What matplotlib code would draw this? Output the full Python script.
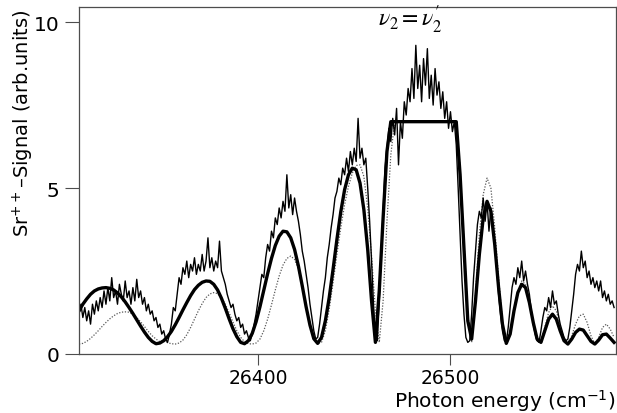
import numpy as np
import matplotlib
matplotlib.use("Agg")
import matplotlib.pyplot as plt

# measured Sr++ signal, one value per cm-1 from 26307 to 26585
energy = np.arange(26307, 26586)
signal = [
    1.2, 1.5, 1.1, 1.4, 1.0, 1.3, 0.9, 1.5, 1.2, 1.6,
    1.3, 1.7, 1.4, 1.9, 1.5, 2.0, 1.6, 2.3, 1.7, 1.9,
    1.5, 2.1, 1.8, 1.6, 2.2, 1.7, 1.9, 1.5, 2.0, 1.6,
    2.25, 1.7, 1.9, 1.5, 1.7, 1.3, 1.5, 1.2, 1.3, 1.0,
    1.1, 0.8, 0.9, 0.6, 0.7, 0.45, 0.35, 0.6, 0.9, 1.4,
    1.3, 1.8, 2.3, 2.1, 2.6, 2.4, 2.8, 2.3, 2.7, 2.5,
    2.9, 2.4, 2.7, 2.5, 3.0, 2.5, 2.8, 3.5, 2.6, 2.9,
    2.5, 2.8, 2.6, 3.4, 2.5, 2.3, 2.1, 1.8, 1.6, 1.4,
    1.5, 1.2, 1.0, 1.1, 0.8, 0.9, 0.6, 0.7, 0.5, 0.4,
    0.6, 0.9, 1.2, 1.6, 2.0, 2.4, 2.3, 2.9, 3.3, 3.1,
    3.7, 3.5, 4.1, 3.9, 4.4, 4.1, 4.6, 4.3, 5.4, 4.4,
    4.8, 4.2, 4.7, 4.3, 4.0, 3.6, 3.1, 2.8, 2.4, 2.0,
    1.5, 1.1, 0.7, 0.45, 0.5, 0.9, 1.4, 1.9, 2.3, 2.9,
    3.3, 3.8, 4.2, 4.7, 4.9, 5.3, 5.1, 5.6, 5.4, 5.9,
    5.5, 6.1, 5.7, 6.2, 5.8, 7.1, 5.9, 6.2, 5.7, 5.9,
    5.0, 4.0, 2.8, 1.5, 0.5, 0.4, 1.6, 3.0, 4.3, 5.6,
    6.2, 6.8, 6.4, 7.1, 6.6, 7.4, 5.7, 7.0, 6.5, 7.6,
    7.2, 8.0, 7.6, 8.6, 7.7, 9.3, 8.0, 8.7, 7.6, 8.9,
    8.1, 9.2, 7.7, 8.4, 7.5, 8.6, 7.8, 8.2, 7.4, 7.9,
    7.1, 7.6, 6.8, 7.3, 6.7, 7.0, 6.3, 5.0, 3.6, 2.2,
    1.2, 0.5, 0.35, 0.4, 1.2, 2.3, 3.1, 3.9, 4.3, 4.1,
    4.7, 4.0, 4.6, 3.7, 4.4, 3.9, 3.3, 2.6, 1.8, 1.2,
    0.7, 0.4, 0.35, 0.8, 1.4, 2.0, 2.3, 2.1, 2.6, 2.3,
    2.8, 2.2, 2.5, 2.1, 1.8, 1.3, 0.9, 0.6, 0.4, 0.35,
    0.7, 1.1, 1.4, 1.3, 1.7, 1.4, 1.9, 1.5, 1.6, 1.2,
    0.9, 0.7, 0.5, 0.4, 0.45, 0.8, 1.3, 1.8, 2.4, 2.7,
    2.5, 3.1, 2.6, 2.8, 2.3, 2.5, 2.1, 2.3, 2.0, 2.2,
    1.9, 2.2, 1.7, 1.9, 1.6, 1.8, 1.5, 1.6, 1.4,
]

# calculations, one value every 2 cm-1
energy_calc = np.arange(26307, 26586, 2)
calc_thick = [
    1.30, 1.50, 1.66, 1.80, 1.90, 1.96, 1.99, 2.00, 1.98, 1.93,
    1.84, 1.72, 1.57, 1.40, 1.22, 1.03, 0.84, 0.66, 0.50, 0.38,
    0.31, 0.33, 0.40, 0.52, 0.68, 0.88, 1.10, 1.33, 1.55, 1.76,
    1.94, 2.07, 2.16, 2.20, 2.19, 2.10, 1.93, 1.68, 1.38, 1.06,
    0.76, 0.52, 0.35, 0.31, 0.40, 0.62, 0.97, 1.42, 1.92, 2.42,
    2.88, 3.27, 3.55, 3.70, 3.68, 3.50, 3.15, 2.65, 2.05, 1.42,
    0.87, 0.46, 0.32, 0.50, 1.00, 1.70, 2.55, 3.45, 4.28, 4.95,
    5.40, 5.60, 5.55, 5.15, 4.35, 3.15, 1.60, 0.35, 1.90, 4.10,
    6.10, 7.0, 7.0, 7.0, 7.0, 7.0, 7.0, 7.0, 7.0, 7.0,
    7.0, 7.0, 7.0, 7.0, 7.0, 7.0, 7.0, 7.0, 7.0, 5.4,
    3.2, 1.0, 0.45, 1.6, 3.0, 4.1, 4.6, 4.3, 3.3, 2.0,
    0.9, 0.32, 0.6, 1.3, 1.85, 2.1, 2.0, 1.55, 0.95, 0.45,
    0.35, 0.7, 1.05, 1.2, 1.05, 0.7, 0.4, 0.3, 0.45, 0.65,
    0.75, 0.72, 0.55, 0.38, 0.3, 0.42, 0.58, 0.6, 0.48, 0.35,
]
calc_dotted = [
    0.30, 0.32, 0.38, 0.47, 0.58, 0.70, 0.83, 0.95, 1.06, 1.15,
    1.22, 1.26, 1.27, 1.26, 1.20, 1.10, 0.97, 0.83, 0.68, 0.55,
    0.45, 0.37, 0.40, 0.34, 0.31, 0.30, 0.33, 0.42, 0.58, 0.80,
    1.05, 1.30, 1.52, 1.70, 1.81, 1.85, 1.82, 1.70, 1.50, 1.24,
    0.96, 0.70, 0.50, 0.37, 0.31, 0.30, 0.33, 0.45, 0.70, 1.05,
    1.48, 1.93, 2.35, 2.68, 2.88, 2.95, 2.85, 2.55, 2.05, 1.45,
    0.90, 0.50, 0.32, 0.35, 0.70, 1.35, 2.15, 3.00, 3.80, 4.50,
    5.05, 5.45, 5.68, 5.70, 5.35, 4.40, 2.95, 1.30, 0.35, 1.60,
    4.00, 6.00, 7.0, 7.0, 7.0, 7.0, 7.0, 7.0, 7.0, 7.0,
    7.0, 7.0, 7.0, 7.0, 7.0, 7.0, 7.0, 7.0, 7.0, 5.6,
    3.4, 1.2, 0.35, 1.8, 3.6, 4.8, 5.3, 5.0, 3.8, 2.3,
    1.0, 0.35, 0.6, 1.3, 1.9, 2.2, 2.1, 1.6, 1.0, 0.45,
    0.35, 0.8, 1.25, 1.45, 1.3, 0.85, 0.45, 0.3, 0.55, 0.9,
    1.15, 1.2, 0.95, 0.55, 0.3, 0.5, 0.8, 0.9, 0.75, 0.5,
]
assert len(signal) == len(energy)
assert len(calc_thick) == len(energy_calc) == len(calc_dotted)

fig = plt.figure(figsize=(6.17, 4.14), dpi=100)
ax = fig.add_axes([79/617, 59/414, 537/617, 347.5/414])

ax.plot(energy_calc, calc_dotted, color="0.35", lw=0.9, ls=(0, (1, 1.3)))
ax.plot(energy, signal, color="black", lw=1.0)
ax.plot(energy_calc, calc_thick, color="black", lw=2.4)

ax.set_xlim(26307, 26586)
ax.set_ylim(0, 10.47)
ax.set_xticks([26400, 26500])
ax.set_yticks([0, 5, 10])
ax.tick_params(axis="x", length=8, width=0.8, labelsize=13.5, pad=2, color="0.3")
ax.tick_params(axis="y", length=10, width=0.8, labelsize=14.5, pad=4, color="0.3")
for s in ax.spines.values():
    s.set_linewidth(0.9)
    s.set_color("0.3")

ax.text(26479, 10.1, r"$\nu_2=\nu_2^{\prime}$", ha="center", va="center",
        fontsize=17, math_fontfamily="stix")

fig.text(23/617, 1 - 10/414, "Sr$^{++}$\u2013Signal (arb.units)", rotation=90,
         ha="center", va="top", fontsize=14)
fig.text(616/617, 6/414, "Photon energy (cm$^{-1}$)", ha="right", va="baseline",
         fontsize=14.5)

fig.savefig("out.png", dpi=100)
